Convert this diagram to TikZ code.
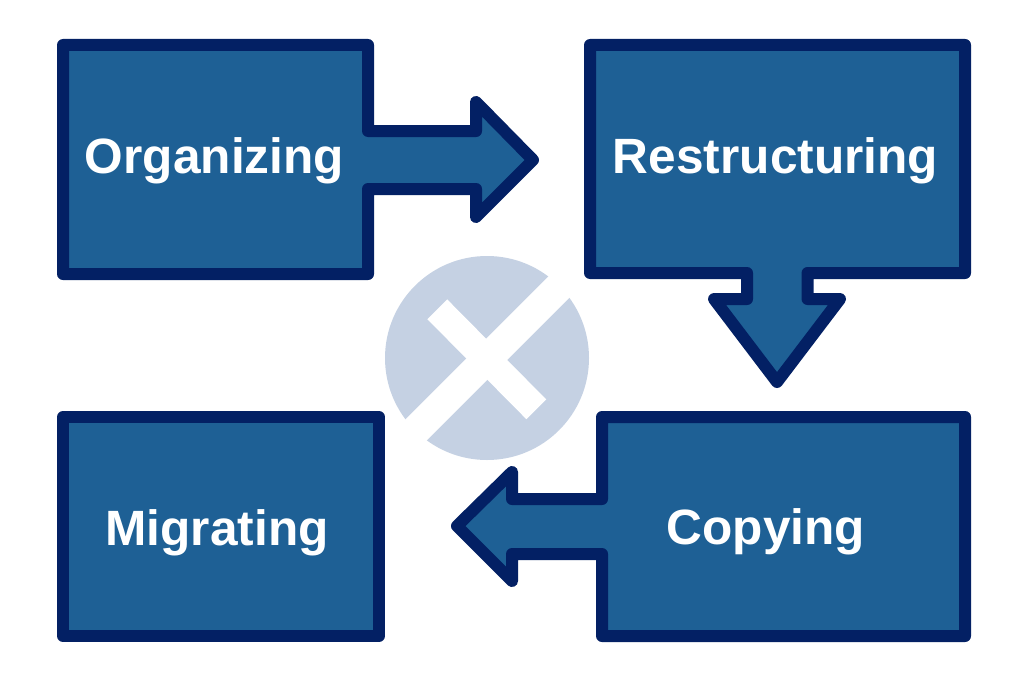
\documentclass[tikz,border=0pt]{standalone}
\usepackage{fontspec}
\setmainfont{Liberation Sans}
\definecolor{boxfill}{HTML}{1E6095}
\definecolor{boxline}{HTML}{032064}
\definecolor{logofill}{HTML}{C5D1E3}
\tikzset{
  flow/.style={draw=boxline,fill=boxfill,line width=12pt,line join=round},
  label/.style={text=white,font=\fontsize{49.6}{54}\selectfont\bfseries,inner sep=0pt,anchor=base},
  logocut/.style={draw=white,line cap=butt}
}
\begin{document}
\begin{tikzpicture}[x=1pt,y=-1pt]
\useasboundingbox (0,0) rectangle (1024,677);
\fill[white] (0,0) rectangle (1024,677);
\fill[logofill] (487,358) circle[radius=102];
\draw[logocut,line width=30pt] (407,439) -- (567,279);
\draw[logocut,line width=28pt] (437.3,309.3) -- (536.3,409.3);
\draw[flow] (63,45) -- (368,45) -- (368,131) -- (476,131) -- (476,102) -- (533,160) -- (476,217) -- (476,189) -- (368,189) -- (368,274) -- (63,274) -- cycle;
\draw[flow] (590,45) -- (965,45) -- (965,273) -- (807.5,273) -- (807.5,299) -- (840,299) -- (777,382) -- (714,299) -- (747,299) -- (747,273) -- (590,273) -- cycle;
\draw[flow] (602,417) -- (965,417) -- (965,636) -- (602,636) -- (602,554) -- (512,554) -- (512,581) -- (457,526) -- (512,472) -- (512,499) -- (602,499) -- cycle;
\draw[flow] (63,417) -- (379,417) -- (379,636) -- (63,636) -- cycle;
\node[label] (org) at (214.5,173) {Organizing};
\node[label] (res) at (775.5,173) {Restructuring};
\node[label] (cop) at (766,544) {Copying};
\node[label] (mig) at (217,545) {Migrating};
\end{tikzpicture}
\end{document}
